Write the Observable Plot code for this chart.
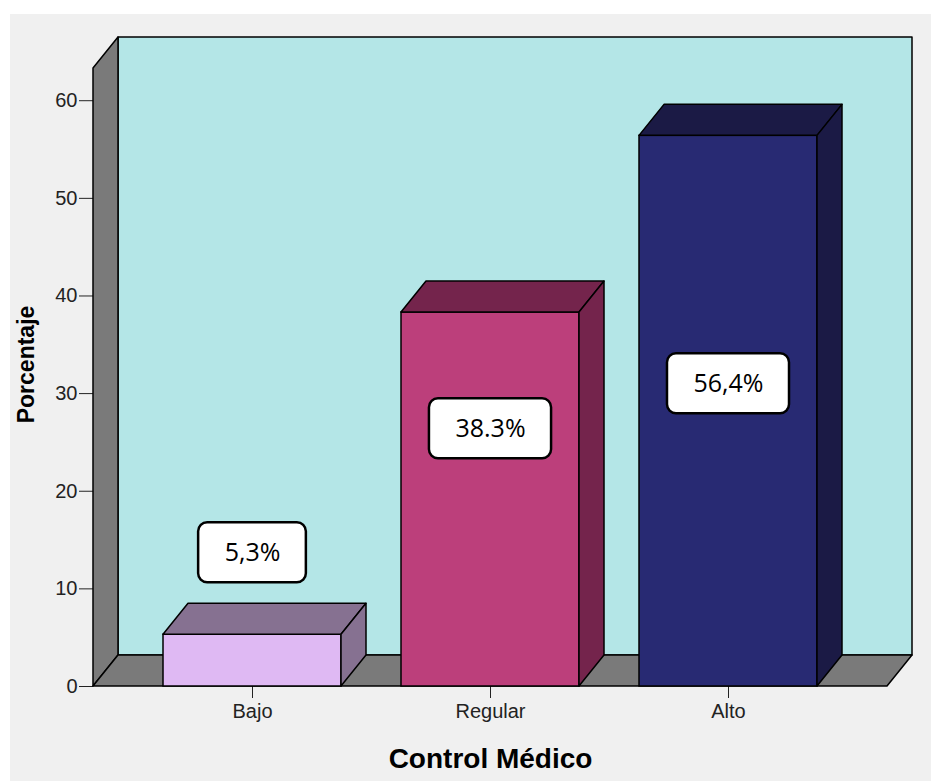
<!DOCTYPE html>
<html>
<head>
<meta charset="utf-8">
<script src="https://cdn.jsdelivr.net/npm/d3@7"></script>
<script src="https://cdn.jsdelivr.net/npm/@observablehq/plot@0.6"></script>
<style>
  html, body { margin: 0; padding: 0; background: #ffffff; }
  #wrap { padding: 14px 0 0 10px; }
</style>
</head>
<body>
<div id="wrap"></div>
<script>
// ---- data ----
const categories = ["Bajo", "Regular", "Alto"];
const values = [5.3, 38.3, 56.4];
const labels = ["5,3%", "38.3%", "56,4%"];
const labelY = [13.7, 26.4, 31.0];
const yTicks = [0, 10, 20, 30, 40, 50, 60];
const frontColors = ["#dfb9f3", "#bc3f7b", "#282a73"];
const shadeColors = ["#867191", "#74244c", "#1b1a45"];

const rows = categories.map((c, i) => ({cat: c, value: values[i], label: labels[i], ly: labelY[i], shade: shadeColors[i]}));

// ---- style constants ----
const DX = 25, DY = -31;
const WALL = "#7a7a7a", BACK = "#b4e6e7";

const poly = (g, pts, fill) =>
  g.append("polygon")
    .attr("points", pts.map(p => p.join(",")).join(" "))
    .attr("fill", fill).attr("stroke", "#000").attr("stroke-width", 1.5)
    .attr("stroke-linejoin", "round");

function walls(index, scales, values, dims) {
  const {y} = scales;
  const x0 = dims.marginLeft, x1 = dims.width - dims.marginRight;
  const y0 = y(0), yt = y(y.domain()[1]);
  const g = d3.create("svg:g");
  poly(g, [[x0 + DX, yt + DY], [x1 + DX, yt + DY], [x1 + DX, y0 + DY], [x0 + DX, y0 + DY]], BACK);
  poly(g, [[x0, y0], [x0, yt], [x0 + DX, yt + DY], [x0 + DX, y0 + DY]], WALL);
  poly(g, [[x0, y0], [x1, y0], [x1 + DX, y0 + DY], [x0 + DX, y0 + DY]], WALL);
  return g.node();
}

function barFaces(index, scales, values, dims) {
  const {x, y} = scales;
  const bw = x.bandwidth();
  const y0 = y(0);
  const g = d3.create("svg:g");
  rows.forEach(r => {
    const xl = x(r.cat), xr = xl + bw, top = y(r.value);
    poly(g, [[xl, top], [xr, top], [xr + DX, top + DY], [xl + DX, top + DY]], r.shade);
    poly(g, [[xr, top], [xr + DX, top + DY], [xr + DX, y0 + DY], [xr, y0]], r.shade);
  });
  return g.node();
}

const ctx = document.createElement("canvas").getContext("2d");
ctx.font = "25px 'Open Sans'";
function labelBoxes(index, scales, values, dims) {
  const {x, y} = scales;
  const bw = x.bandwidth();
  const g = d3.create("svg:g");
  rows.forEach(r => {
    const w = ctx.measureText(r.label).width + 52, h = 60;
    const cx = x(r.cat) + bw / 2, cy = y(r.ly);
    g.append("rect")
      .attr("x", cx - w / 2).attr("y", cy - h / 2)
      .attr("width", w).attr("height", h)
      .attr("rx", 9).attr("ry", 9)
      .attr("fill", "#fff").attr("stroke", "#000").attr("stroke-width", 2.5);
  });
  return g.node();
}

const chart = Plot.plot({
  width: 921,
  height: 767,
  marginLeft: 83,
  marginRight: 44,
  marginTop: 54,
  marginBottom: 95,
  style: {background: "#f0f0f0", fontFamily: "'Liberation Sans', Arial, sans-serif", fontSize: "20px", color: "#222", overflow: "visible"},
  x: {domain: categories, paddingInner: 0.251, paddingOuter: 0.289, label: null, tickSize: 12, tickPadding: 5},
  y: {domain: [0, 63.3], ticks: yTicks, tickSize: 14, tickPadding: 2, label: null},
  color: {domain: categories, range: frontColors},
  marks: [
    walls,
    Plot.barY(rows, {x: "cat", y: "value", fill: "cat", stroke: "#000", strokeWidth: 1.5}),
    barFaces,
    labelBoxes,
    Plot.text(rows, {x: "cat", y: "ly", text: "label", fontSize: 25, fontFamily: "'Open Sans', sans-serif", fill: "#000"}),
    Plot.text(["Porcentaje"], {frameAnchor: "left", textAnchor: "middle", lineAnchor: "middle", rotate: -90, dx: -67, dy: -13, text: d => d, fontSize: 23, fontWeight: "bold", fill: "#000"}),
    Plot.text(["Control Médico"], {frameAnchor: "bottom", textAnchor: "middle", lineAnchor: "middle", dy: 73, text: d => d, fontSize: 28, fontWeight: "bold", fill: "#000"})
  ]
});
document.getElementById("wrap").appendChild(chart);
</script>
</body>
</html>
